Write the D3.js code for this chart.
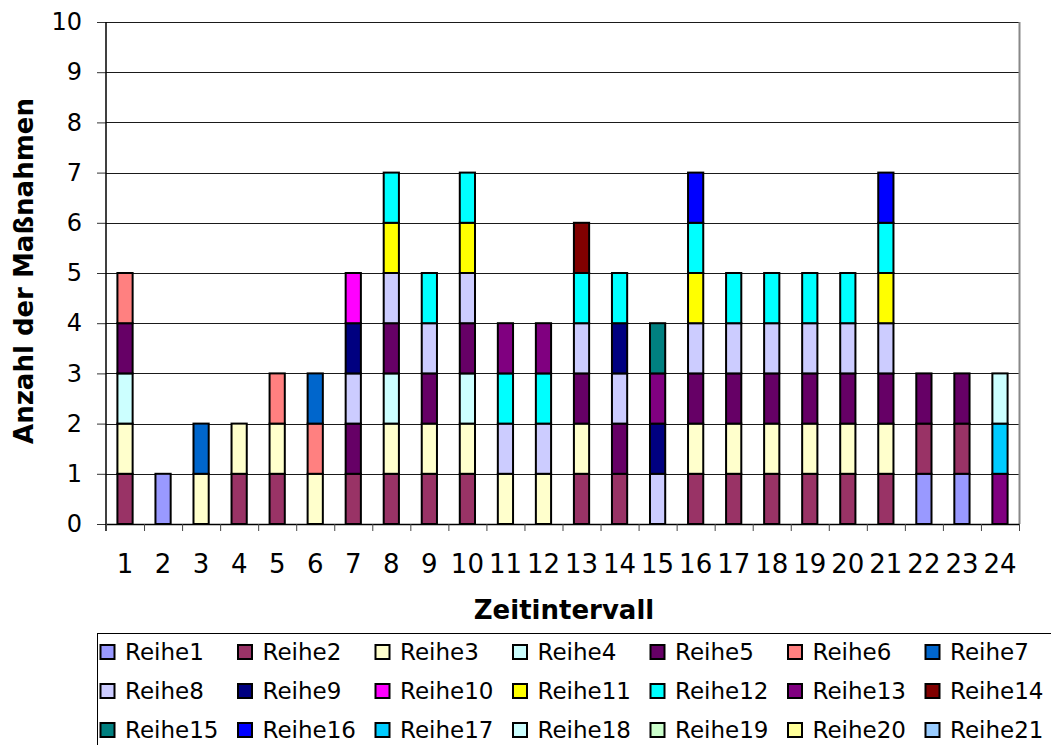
<!DOCTYPE html>
<html>
<head>
<meta charset="utf-8">
<script src="https://cdn.jsdelivr.net/npm/d3@7"></script>
<style>
  html, body { margin: 0; padding: 0; background: #fff; overflow: hidden; }
  svg { display: block; font-family: "DejaVu Sans", Verdana, sans-serif; }
</style>
</head>
<body>
<svg id="chart" width="1051" height="745"></svg>
<script>
// ---- data ----
const categories = ["1","2","3","4","5","6","7","8","9","10","11","12","13","14","15","16","17","18","19","20","21","22","23","24"];
const yTicks = [0,1,2,3,4,5,6,7,8,9,10];
const seriesNames = ["Reihe1","Reihe2","Reihe3","Reihe4","Reihe5","Reihe6","Reihe7","Reihe8","Reihe9","Reihe10","Reihe11","Reihe12","Reihe13","Reihe14","Reihe15","Reihe16","Reihe17","Reihe18","Reihe19","Reihe20","Reihe21"];
const seriesColors = ["#9999FF","#993366","#FFFFCC","#CCFFFF","#660066","#FF8080","#0066CC","#CCCCFF","#000080","#FF00FF","#FFFF00","#00FFFF","#800080","#800000","#008080","#0000FF","#00CCFF","#CCFFFF","#CCFFCC","#FFFF99","#99CCFF"];
//                 1 2 3 4 5 6 7 8 9 10 11 12 13 14 15 16 17 18 19 20 21 22 23 24
const reihe1  = [0,1,0,0,0,0,0,0,0,0, 0, 0, 0, 0, 0, 0, 0, 0, 0, 0, 0, 1, 1, 0];
const reihe2  = [1,0,0,1,1,0,1,1,1,1, 0, 0, 1, 1, 0, 1, 1, 1, 1, 1, 1, 1, 1, 0];
const reihe3  = [1,0,1,1,1,1,0,1,1,1, 1, 1, 1, 0, 0, 1, 1, 1, 1, 1, 1, 0, 0, 0];
const reihe4  = [1,0,0,0,0,0,0,1,0,1, 0, 0, 0, 0, 0, 0, 0, 0, 0, 0, 0, 0, 0, 0];
const reihe5  = [1,0,0,0,0,0,1,1,1,1, 0, 0, 1, 1, 0, 1, 1, 1, 1, 1, 1, 1, 1, 0];
const reihe6  = [1,0,0,0,1,1,0,0,0,0, 0, 0, 0, 0, 0, 0, 0, 0, 0, 0, 0, 0, 0, 0];
const reihe7  = [0,0,1,0,0,1,0,0,0,0, 0, 0, 0, 0, 0, 0, 0, 0, 0, 0, 0, 0, 0, 0];
const reihe8  = [0,0,0,0,0,0,1,1,1,1, 1, 1, 1, 1, 1, 1, 1, 1, 1, 1, 1, 0, 0, 0];
const reihe9  = [0,0,0,0,0,0,1,0,0,0, 0, 0, 0, 1, 1, 0, 0, 0, 0, 0, 0, 0, 0, 0];
const reihe10 = [0,0,0,0,0,0,1,0,0,0, 0, 0, 0, 0, 0, 0, 0, 0, 0, 0, 0, 0, 0, 0];
const reihe11 = [0,0,0,0,0,0,0,1,0,1, 0, 0, 0, 0, 0, 1, 0, 0, 0, 0, 1, 0, 0, 0];
const reihe12 = [0,0,0,0,0,0,0,1,1,1, 1, 1, 1, 1, 0, 1, 1, 1, 1, 1, 1, 0, 0, 0];
const reihe13 = [0,0,0,0,0,0,0,0,0,0, 1, 1, 0, 0, 1, 0, 0, 0, 0, 0, 0, 0, 0, 1];
const reihe14 = [0,0,0,0,0,0,0,0,0,0, 0, 0, 1, 0, 0, 0, 0, 0, 0, 0, 0, 0, 0, 0];
const reihe15 = [0,0,0,0,0,0,0,0,0,0, 0, 0, 0, 0, 1, 0, 0, 0, 0, 0, 0, 0, 0, 0];
const reihe16 = [0,0,0,0,0,0,0,0,0,0, 0, 0, 0, 0, 0, 1, 0, 0, 0, 0, 1, 0, 0, 0];
const reihe17 = [0,0,0,0,0,0,0,0,0,0, 0, 0, 0, 0, 0, 0, 0, 0, 0, 0, 0, 0, 0, 1];
const reihe18 = [0,0,0,0,0,0,0,0,0,0, 0, 0, 0, 0, 0, 0, 0, 0, 0, 0, 0, 0, 0, 1];
const reihe19 = [0,0,0,0,0,0,0,0,0,0, 0, 0, 0, 0, 0, 0, 0, 0, 0, 0, 0, 0, 0, 0];
const reihe20 = [0,0,0,0,0,0,0,0,0,0, 0, 0, 0, 0, 0, 0, 0, 0, 0, 0, 0, 0, 0, 0];
const reihe21 = [0,0,0,0,0,0,0,0,0,0, 0, 0, 0, 0, 0, 0, 0, 0, 0, 0, 0, 0, 0, 0];
const seriesValues = [reihe1,reihe2,reihe3,reihe4,reihe5,reihe6,reihe7,reihe8,reihe9,reihe10,reihe11,reihe12,reihe13,reihe14,reihe15,reihe16,reihe17,reihe18,reihe19,reihe20,reihe21];
const yTitle = "Anzahl der Maßnahmen";
const xTitle = "Zeitintervall";

// ---- build table ----
const table = categories.map((c, i) => {
  const row = { cat: c };
  seriesNames.forEach((s, j) => { row[s] = seriesValues[j][i]; });
  return row;
});

const svg = d3.select("#chart");
const plot = { left: 106, right: 1019, top: 22, bottom: 524 };

const x = d3.scaleBand().domain(categories).range([plot.left, plot.right]).paddingInner(0.6).paddingOuter(0.3);
const xEdge = d3.scaleLinear().domain([0, categories.length]).range([plot.left, plot.right]);
const y = d3.scaleLinear().domain([0, 10]).range([plot.bottom, plot.top]);
const color = d3.scaleOrdinal().domain(seriesNames).range(seriesColors);

// background
svg.append("rect").attr("width", 1051).attr("height", 745).attr("fill", "#fff");

// gridlines
svg.append("g").selectAll("line").data(yTicks.filter(d => d > 0)).join("line")
  .attr("x1", plot.left).attr("x2", plot.right)
  .attr("y1", d => Math.round(y(d)) + 0.5).attr("y2", d => Math.round(y(d)) + 0.5)
  .attr("stroke", "#1a1a1a").attr("stroke-width", 1);

// plot area border (right side gray)
svg.append("line").attr("x1", plot.right + 0.5).attr("x2", plot.right + 0.5)
  .attr("y1", plot.top).attr("y2", plot.bottom)
  .attr("stroke", "#888").attr("stroke-width", 2);

// stacked bars
const stack = d3.stack().keys(seriesNames);
const layers = stack(table);
svg.append("g").selectAll("g").data(layers).join("g")
  .attr("fill", d => color(d.key))
  .selectAll("rect").data(d => d.filter(p => p[1] - p[0] > 0)).join("rect")
  .attr("x", d => x(d.data.cat))
  .attr("width", x.bandwidth())
  .attr("y", d => y(d[1]))
  .attr("height", d => y(d[0]) - y(d[1]))
  .attr("stroke", "#000").attr("stroke-width", 2);

// y axis
const yAxis = d3.axisLeft(y).tickValues(yTicks).tickSize(9).tickPadding(15).tickSizeOuter(0);
const gy = svg.append("g").attr("transform", `translate(${plot.left},0)`).call(yAxis);
gy.select(".domain").remove();
gy.selectAll(".tick line").attr("stroke", "#333");
gy.selectAll("text").attr("font-size", 24).attr("fill", "#000").attr("font-family", "DejaVu Sans");
svg.append("line").attr("x1", plot.left).attr("x2", plot.left)
  .attr("y1", plot.top).attr("y2", plot.bottom + 7).attr("stroke", "#000").attr("stroke-width", 1.5);

// x axis: boundary ticks
const xTickAxis = d3.axisBottom(xEdge).tickValues(d3.range(0, categories.length + 1)).tickSize(7).tickFormat("").tickSizeOuter(0);
const gxt = svg.append("g").attr("transform", `translate(0,${plot.bottom})`).call(xTickAxis);
gxt.select(".domain").attr("stroke", "#000").attr("stroke-width", 1.5);
gxt.selectAll(".tick line").attr("stroke", "#444");

// x axis labels
const xLabelAxis = d3.axisBottom(x).tickSize(0).tickPadding(31);
const gxl = svg.append("g").attr("transform", `translate(0,${plot.bottom})`).call(xLabelAxis);
gxl.select(".domain").remove();
gxl.selectAll("text").attr("font-size", 26).attr("fill", "#000").attr("font-family", "DejaVu Sans");

// axis titles
svg.append("text").attr("transform", "translate(33,271) rotate(-90)")
  .attr("text-anchor", "middle").attr("font-size", 26).attr("font-weight", "bold").text(yTitle);
svg.append("text").attr("x", 564).attr("y", 619)
  .attr("text-anchor", "middle").attr("font-size", 26).attr("font-weight", "bold").text(xTitle);

// legend
const legend = svg.append("g");
legend.append("rect").attr("x", 97.5).attr("y", 633.5).attr("width", 1000).attr("height", 200)
  .attr("fill", "#fff").attr("stroke", "#000").attr("stroke-width", 1);
const colW = 137.5, rowH = 39;
const items = legend.selectAll("g.item").data(seriesNames).join("g").attr("class", "item")
  .attr("transform", (d, i) => `translate(${100 + (i % 7) * colW},${652 + Math.floor(i / 7) * rowH})`);
items.append("rect").attr("x", 0.5).attr("y", -7).attr("width", 14).attr("height", 14)
  .attr("fill", d => color(d)).attr("stroke", "#000").attr("stroke-width", 2);
items.append("text").attr("x", 25).attr("y", 0).attr("dy", "0.36em")
  .attr("font-size", 23).attr("fill", "#000").text(d => d);
</script>
</body>
</html>
